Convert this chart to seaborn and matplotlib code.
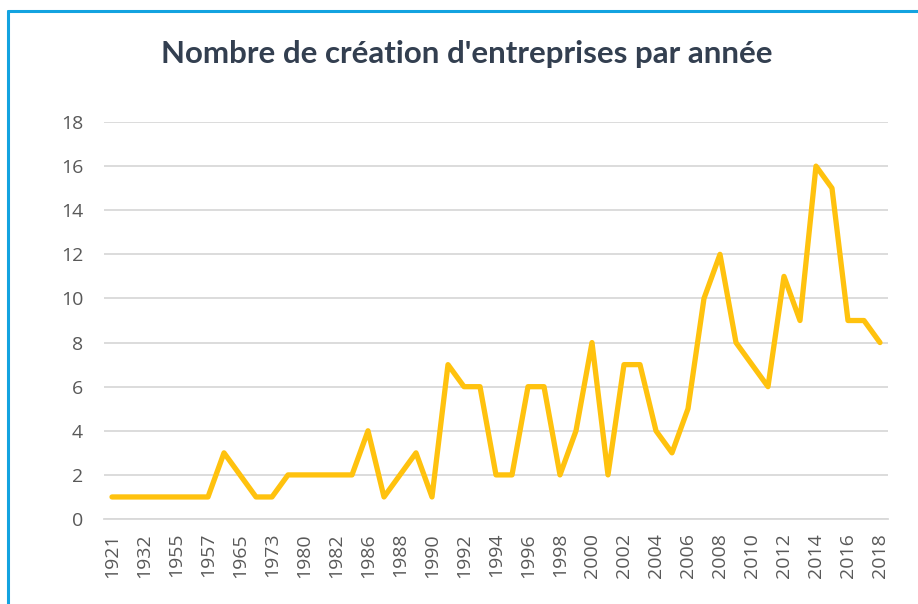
import pandas as pd
import matplotlib.pyplot as plt
from matplotlib.lines import Line2D
import seaborn as sns

# years (categories) and number of companies created
years = ['1921', '1929', '1932', '1950', '1955', '1956', '1957', '1960', '1965', '1970',
         '1973', '1976', '1980', '1981', '1982', '1985', '1986', '1987', '1988', '1989',
         '1990', '1991', '1992', '1993', '1994', '1995', '1996', '1997', '1998', '1999',
         '2000', '2001', '2002', '2003', '2004', '2005', '2006', '2007', '2008', '2009',
         '2010', '2011', '2012', '2013', '2014', '2015', '2016', '2017', '2018']
counts = [1, 1, 1, 1, 1, 1, 1, 3, 2, 1,
          1, 2, 2, 2, 2, 2, 4, 1, 2, 3,
          1, 7, 6, 6, 2, 2, 6, 6, 2, 4,
          8, 2, 7, 7, 4, 3, 5, 10, 12, 8,
          7, 6, 11, 9, 16, 15, 9, 9, 8]
yticks = list(range(0, 19, 2))

df = pd.DataFrame({'Année': years, 'Créations': counts})

sns.set_theme(style="white")
plt.rcParams['font.family'] = ['Open Sans', 'DejaVu Sans']
GOLD, GRID, TXT = "#FFC20E", "#D9D9D9", "#595959"

fig = plt.figure(figsize=(9.18, 6.04), dpi=100)
ax = fig.add_axes([0.1133, 0.1407, 0.854, 0.6573])

sns.lineplot(data=df, x='Année', y='Créations', sort=False, ax=ax,
             color=GOLD, lw=3.8, solid_joinstyle='round', solid_capstyle='round')

ax.set_xlim(-0.5, len(years) - 0.5)
ax.set_ylim(0, 18)
ax.set_yticks(yticks)
ax.set_xticks(range(0, len(years), 2))
ax.set_xticklabels(years[::2], rotation=90)
ax.yaxis.grid(True, color=GRID, lw=1.3)
ax.set_axisbelow(True)
for s in ['left', 'right', 'top']:
    ax.spines[s].set_visible(False)
ax.spines['bottom'].set_color(GRID)
ax.spines['bottom'].set_linewidth(1.3)
ax.tick_params(axis='y', length=0, pad=15, labelsize=14, labelcolor=TXT)
ax.tick_params(axis='x', length=0, pad=10, labelsize=14, labelcolor=TXT)
ax.set_xlabel("")
ax.set_ylabel("")

fig.text(0.508, 0.91, "Nombre de création d'entreprises par année",
         ha='center', va='center', fontsize=22.5, fontweight='bold',
         color="#333F50", family=['Lato', 'DejaVu Sans'])

# chart frame (blue border, top and left)
BLUE = "#13A3E0"
fig.add_artist(Line2D([8 / 918, 1], [1 - 11 / 604, 1 - 11 / 604], color=BLUE, lw=2.2))
fig.add_artist(Line2D([8 / 918, 8 / 918], [0, 1 - 11 / 604], color=BLUE, lw=2.2))

plt.savefig('out.png', dpi=100)
plt.close()
print("out.png")
